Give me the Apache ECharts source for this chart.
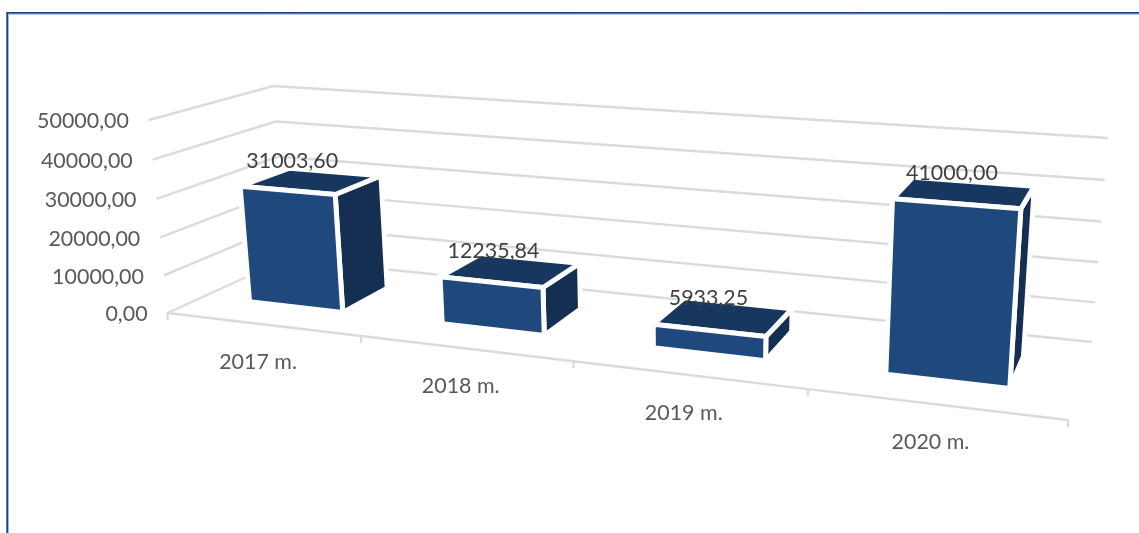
<!DOCTYPE html>
<html>
<head>
<meta charset="utf-8">
<style>html,body{margin:0;padding:0;background:#fff}#chart{width:1139px;height:533px}</style>
<script src="https://cdn.jsdelivr.net/npm/echarts@6/dist/echarts.min.js"></script>
</head>
<body>
<div id="chart"></div>
<script>
// Yearly amounts shown as 3D columns
var categories = ['2017 m.', '2018 m.', '2019 m.', '2020 m.'];
var values = [31003.60, 12235.84, 5933.25, 41000.00];
var valueLabels = ['31003,60', '12235,84', '5933,25', '41000,00'];
var valueTicks = [0, 10000, 20000, 30000, 40000, 50000];
var tickLabels = ['0,00', '10000,00', '20000,00', '30000,00', '40000,00', '50000,00'];

// Camera calibration: box coordinates (along, depth, height; each 0..1) -> screen
var cameraAnchors = [
  [0, 0, 0, 166.5, 313], [1, 0, 0, 1068, 420], [0, 1, 0, 287, 259], [1, 1, 0, 1092, 342],
  [0, 0, 1, 150, 120], [0, 1, 1, 272, 86], [1, 1, 1, 1108, 138]
];

// Least squares fit of a 3x4 projection matrix
function fitCamera(anchors) {
  var rows = [], rhs = [];
  anchors.forEach(function (a) {
    var X = a[0], Y = a[1], Z = a[2], x = a[3] / 1000, y = a[4] / 1000;
    rows.push([X, Y, Z, 1, 0, 0, 0, 0, -x * X, -x * Y, -x * Z]); rhs.push(x);
    rows.push([0, 0, 0, 0, X, Y, Z, 1, -y * X, -y * Y, -y * Z]); rhs.push(y);
  });
  var n = 11, M = [];
  for (var i = 0; i < n; i++) {
    M.push([]);
    for (var j = 0; j <= n; j++) {
      var s = 0;
      for (var k = 0; k < rows.length; k++) s += rows[k][i] * (j < n ? rows[k][j] : rhs[k]);
      M[i].push(s);
    }
  }
  for (i = 0; i < n; i++) {
    var p = i;
    for (k = i + 1; k < n; k++) if (Math.abs(M[k][i]) > Math.abs(M[p][i])) p = k;
    var t = M[i]; M[i] = M[p]; M[p] = t;
    for (k = 0; k < n; k++) {
      if (k === i) continue;
      var f = M[k][i] / M[i][i];
      for (j = i; j <= n; j++) M[k][j] -= f * M[i][j];
    }
  }
  return M.map(function (r, q) { return r[n] / r[q]; });
}
var cam = fitCamera(cameraAnchors);
function project(u, v, w) {
  var d = cam[8] * u + cam[9] * v + cam[10] * w + 1;
  return [1000 * (cam[0] * u + cam[1] * v + cam[2] * w + cam[3]) / d,
          1000 * (cam[4] * u + cam[5] * v + cam[6] * w + cam[7]) / d];
}

var FONT = '21px Lato, sans-serif';
var TEXT_STRETCH = 1.02;
var FRONT = '#1F497D', TOP = '#17375E', SIDE = '#152F53', GRID = '#DBDBDB';
var BAR_WIDTH = 0.495, DEPTH_FROM = 0.28, DEPTH_TO = 0.70;

// Normalised box coordinates from the hidden cartesian axes
function boxPoint(api, params, cat, val) {
  var c = api.coord([cat, val]), s = params.coordSys;
  return [(c[0] - s.x) / s.width, 1 - (c[1] - s.y) / s.height];
}
function label(text, x, y, fill, align) {
  return {
    type: 'text', x: x, y: y, scaleX: TEXT_STRETCH, z2: 10,
    style: { x: 0, y: 0, text: text, font: FONT, fill: fill, align: align, verticalAlign: 'middle' }
  };
}
function line(points) {
  return {
    type: 'polyline', shape: { points: points },
    style: { fill: null, stroke: GRID, lineWidth: 2.4 }
  };
}
function face(points, fill, z) {
  return {
    type: 'polygon', z2: z, shape: { points: points },
    style: { fill: fill, stroke: '#fff', lineWidth: 5, lineJoin: 'miter' }
  };
}

function renderWall(params, api) {
  var tick = api.value(0), i = params.dataIndex;
  var w = boxPoint(api, params, 0, tick)[1];
  var p = project(0, 0, w);
  return {
    type: 'group',
    children: [
      line([p, project(0, 1, w), project(1, 1, w)]),
      label(tickLabels[i], p[0] - 20, p[1] + 1.5, '#595959', 'right')
    ]
  };
}

function renderFloor(params, api) {
  var i = params.dataIndex;
  var band = api.size([1, 0])[0] / params.coordSys.width;
  var uc = boxPoint(api, params, i, 0)[0];
  var a = project(uc - band / 2, 0, 0), b = project(uc + band / 2, 0, 0), m = project(uc, 0, 0);
  var children = [line([a, b]), line([b, [b[0], b[1] + 7]])];
  if (i === 0) children.push(line([a, [a[0], a[1] + 7]]));
  children.push(label(categories[i], m[0] - 4, m[1] + 38, '#595959', 'center'));
  return { type: 'group', children: children };
}

function renderBar(params, api) {
  var i = params.dataIndex;
  var band = api.size([1, 0])[0] / params.coordSys.width;
  var top = boxPoint(api, params, i, api.value(1));
  var u0 = top[0] - band * BAR_WIDTH / 2, u1 = top[0] + band * BAR_WIDTH / 2;
  var v0 = DEPTH_FROM, v1 = DEPTH_TO, h = top[1];
  return {
    type: 'group',
    children: [
      face([project(u1, v0, 0), project(u1, v1, 0), project(u1, v1, h), project(u1, v0, h)], SIDE, 1),
      face([project(u0, v0, h), project(u1, v0, h), project(u1, v1, h), project(u0, v1, h)], TOP, 2),
      face([project(u0, v0, 0), project(u1, v0, 0), project(u1, v0, h), project(u0, v0, h)], FRONT, 3)
    ]
  };
}

function renderValue(params, api) {
  var i = params.dataIndex;
  var top = boxPoint(api, params, i, api.value(1));
  var p = project(top[0], 0.4, top[1]);
  return label(valueLabels[i], p[0] - 9, p[1] - 24, '#404040', 'center');
}

var chart = echarts.init(document.getElementById('chart'));
chart.setOption({
  animation: false,
  backgroundColor: '#fff',
  grid: { left: 0, right: 0, top: 0, bottom: 0 },
  xAxis: { type: 'category', data: categories, show: false },
  yAxis: { type: 'value', min: 0, max: 50000, interval: 10000, show: false },
  graphic: [
    { type: 'polyline', silent: true, shape: { points: [[8.6, 533], [8.6, 14.4], [1139, 14.4]] },
      style: { fill: null, stroke: '#B4C5DC', lineWidth: 1 } },
    { type: 'polyline', silent: true, shape: { points: [[7.2, 533], [7.2, 12.9], [1139, 12.9]] },
      style: { fill: null, stroke: '#1B4A8A', lineWidth: 1.9 } }
  ],
  series: [
    { type: 'custom', name: 'walls', clip: false, z: 1, renderItem: renderWall,
      encode: { y: 0 }, data: valueTicks.map(function (t) { return [t]; }) },
    { type: 'custom', name: 'floor', clip: false, z: 2, renderItem: renderFloor,
      data: categories.map(function (c, i) { return [i, 0]; }) },
    { type: 'custom', name: 'columns', clip: false, z: 3, renderItem: renderBar,
      data: values.map(function (v, i) { return [i, v]; }) },
    { type: 'custom', name: 'values', clip: false, z: 4, renderItem: renderValue,
      data: values.map(function (v, i) { return [i, v]; }) }
  ]
});
</script>
</body>
</html>
